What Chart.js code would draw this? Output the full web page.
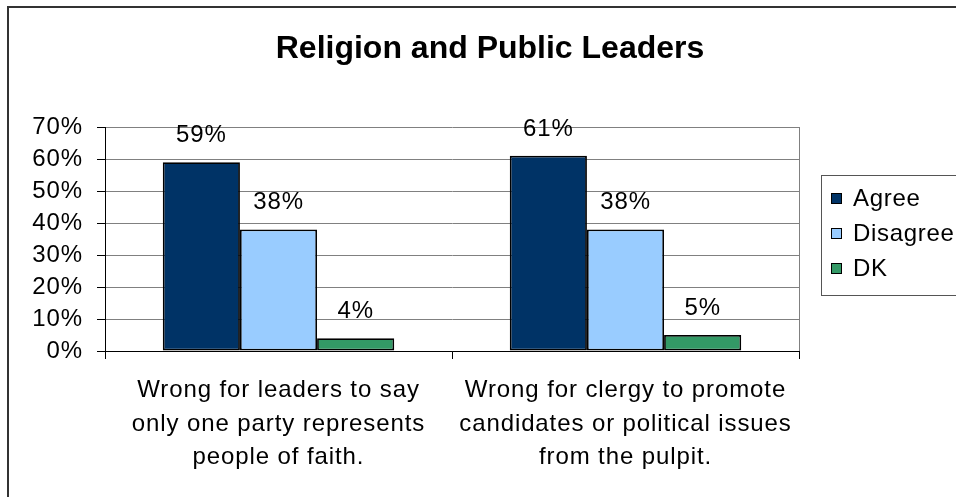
<!DOCTYPE html>
<html>
<head>
<meta charset="utf-8">
<title>Religion and Public Leaders</title>
<script src="https://cdn.jsdelivr.net/npm/chart.js@4.4.1/dist/chart.umd.min.js"></script>
<style>
  html, body { margin: 0; padding: 0; background: #fff; overflow: hidden; }
  #wrap { position: relative; width: 956px; height: 497px; }
  /* chart frame, runs off the right and bottom edges */
  #frame {
    position: absolute; left: 7px; top: 6px; width: 1000px; height: 600px;
    border-left: 2px solid #333; border-top: 2px solid #333;
  }
  #chart { position: absolute; left: 0; top: 0; }
</style>
</head>
<body>
<div id="wrap">
  <div id="frame"></div>
  <canvas id="chart" width="956" height="497"></canvas>
</div>
<script>
// Survey data
const categories = [
  ['Wrong for leaders to say', 'only one party represents', 'people of faith.'],
  ['Wrong for clergy to promote', 'candidates or political issues', 'from the pulpit.']
];
const seriesNames = ['Agree', 'Disagree', 'DK'];
const agreeValues = [59, 61];
const disagreeValues = [38, 38];
const dkValues = [4, 5];
const yTicks = [0, 10, 20, 30, 40, 50, 60, 70];

const chartTitle = 'Religion and Public Leaders';
const FONT = "'Liberation Sans', Arial, sans-serif";

const colors = {
  agree: '#003366',
  disagree: '#99CCFF',
  dk: '#339966',
  grid: '#808080',
  axis: '#000000'
};

// title, value labels and boxed legend drawn straight onto the canvas
const decorations = {
  id: 'decorations',
  beforeDraw(chart) {
    chart.ctx.letterSpacing = '0.9px';
  },
  afterDatasetsDraw(chart) {
    const ctx = chart.ctx;
    const area = chart.chartArea;
    ctx.save();
    // plot area border on the right
    ctx.strokeStyle = colors.grid;
    ctx.lineWidth = 1;
    ctx.beginPath();
    ctx.moveTo(Math.round(area.right) + 0.5, area.top);
    ctx.lineTo(Math.round(area.right) + 0.5, area.bottom);
    ctx.stroke();

    // value labels above each bar
    ctx.fillStyle = '#000';
    ctx.font = '24px ' + FONT;
    ctx.textAlign = 'center';
    ctx.textBaseline = 'alphabetic';
    chart.data.datasets.forEach((ds, i) => {
      chart.getDatasetMeta(i).data.forEach((bar, j) => {
        ctx.fillText(ds.data[j] + '%', bar.x, bar.y - 20);
      });
    });
    ctx.restore();
  },
  afterDraw(chart) {
    const ctx = chart.ctx;
    const area = chart.chartArea;
    ctx.save();

    // title
    ctx.letterSpacing = '0px';
    ctx.fillStyle = '#000';
    ctx.font = 'bold 32px ' + FONT;
    ctx.textAlign = 'center';
    ctx.textBaseline = 'alphabetic';
    ctx.fillText(chartTitle, 490, 58);

    // legend box
    ctx.letterSpacing = '0.7px';
    const lx = Math.round(area.right) + 22;
    const ly = 175;
    ctx.strokeStyle = '#555';
    ctx.lineWidth = 1;
    ctx.strokeRect(lx + 0.5, ly + 0.5, chart.width, 120);

    ctx.font = '24px ' + FONT;
    ctx.textAlign = 'left';
    ctx.textBaseline = 'middle';
    chart.data.datasets.forEach((ds, i) => {
      const cy = ly + 23 + i * 35;
      ctx.fillStyle = ds.backgroundColor;
      ctx.fillRect(lx + 10, cy - 5, 11, 11);
      ctx.strokeStyle = '#000';
      ctx.strokeRect(lx + 10.5, cy - 4.5, 10, 10);
      ctx.fillStyle = '#000';
      ctx.fillText(ds.label, lx + 32, cy + 1);
    });
    ctx.restore();
  }
};

const barStyle = {
  borderColor: '#000',
  borderWidth: 1.8,
  borderSkipped: false,
  categoryPercentage: 0.667,
  barPercentage: 1.0
};

new Chart(document.getElementById('chart'), {
  type: 'bar',
  data: {
    labels: categories,
    datasets: [
      { label: seriesNames[0], data: agreeValues, backgroundColor: colors.agree, ...barStyle },
      { label: seriesNames[1], data: disagreeValues, backgroundColor: colors.disagree, ...barStyle },
      { label: seriesNames[2], data: dkValues, backgroundColor: colors.dk, ...barStyle }
    ]
  },
  options: {
    responsive: false,
    animation: false,
    layout: { padding: { top: 127, right: 157, left: 0, bottom: 0 } },
    plugins: {
      legend: { display: false },
      title: { display: false },
      tooltip: { enabled: false }
    },
    scales: {
      x: {
        grid: {
          offset: true,
          drawOnChartArea: false,
          drawTicks: true,
          tickLength: 8,
          tickColor: colors.axis
        },
        border: { color: colors.axis, width: 1 },
        ticks: {
          color: '#000',
          padding: 15,
          maxRotation: 0,
          autoSkip: false,
          font: { family: FONT, size: 24, lineHeight: 1.39 }
        },
        afterFit(scale) { scale.height = 146; }
      },
      y: {
        min: yTicks[0],
        max: yTicks[yTicks.length - 1],
        afterBuildTicks(scale) {
          scale.ticks = yTicks.map(v => ({ value: v }));
        },
        grid: {
          color: c => (c.tick && c.tick.value === 0 ? colors.axis : colors.grid),
          tickColor: colors.axis,
          tickLength: 8,
          lineWidth: 1
        },
        border: { color: colors.axis, width: 1 },
        ticks: {
          color: '#000',
          padding: 14,
          font: { family: FONT, size: 24 },
          callback: v => v + '%'
        },
        afterFit(scale) { scale.width = 105; }
      }
    }
  },
  plugins: [decorations]
});
</script>
</body>
</html>
